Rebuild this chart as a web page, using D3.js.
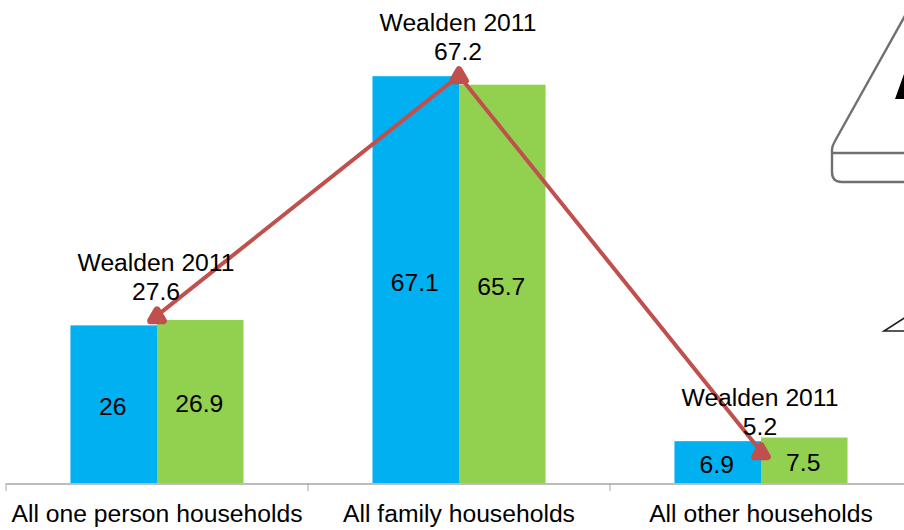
<!DOCTYPE html>
<html>
<head>
<meta charset="utf-8">
<script src="https://cdn.jsdelivr.net/npm/d3@7"></script>
<style>
html,body{margin:0;padding:0;background:#fff;overflow:hidden}
svg{display:block}
text{font-family:"Liberation Sans",Arial,sans-serif;font-size:24.7px;fill:#000}
</style>
</head>
<body>
<svg id="chart" width="904" height="530"></svg>
<script>
const categories = ["All one person households", "All family households", "All other households"];
const seriesA = [26, 67.1, 6.9];
const seriesB = [26.9, 65.7, 7.5];
const lineValues = [27.6, 67.2, 5.2];
const lineName = "Wealden 2011";
const seriesNames = ["A", "B"];
const colors = ["#00B0F0", "#92D050"];
const lineColor = "#C0504D";
const axisColor = "#A6A6A6";

const svg = d3.select("#chart");
const x = d3.scaleBand().domain(categories).range([6, 912]);
const y = d3.scaleLinear().domain([0, 80]).range([483, -2]);
const xSub = d3.scaleBand().domain(seriesNames).range([x.bandwidth() * 0.2135, x.bandwidth() * 0.7865]);

// decorative shapes clipped at the right edge
const deco = svg.append("g").attr("fill", "none").attr("stroke", "#707070").attr("stroke-width", 2.4);
deco.append("path").attr("d", "M906,14 L835,141 Q832,146 832,150 L832,172 Q832,182 842,182 L906,182");
deco.append("path").attr("d", "M832,153 L906,153");
svg.append("path").attr("d", "M895,99 L904,74 L904,99 Z").attr("fill", "#000");
svg.append("path").attr("d", "M906,317 L884,331 L906,331").attr("fill", "none").attr("stroke", "#222").attr("stroke-width", 1.6);

// bars
[seriesA, seriesB].forEach((vals, s) => {
  svg.append("g").selectAll("rect").data(vals).join("rect")
    .attr("x", (d, i) => x(categories[i]) + xSub(seriesNames[s]))
    .attr("y", d => y(d))
    .attr("width", xSub.bandwidth())
    .attr("height", d => y(0) - y(d))
    .attr("fill", colors[s]);
  svg.append("g").selectAll("text").data(vals).join("text")
    .attr("x", (d, i) => x(categories[i]) + xSub(seriesNames[s]) + xSub.bandwidth() / 2 - 1)
    .attr("y", d => (y(d) + y(0)) / 2 + 11)
    .attr("text-anchor", "middle")
    .text(d => d);
});

// axis
const axis = d3.axisBottom(x).tickValues([]).tickSizeOuter(0);
const axisG = svg.append("g").attr("transform", "translate(0,483.5)").call(axis);
axisG.select(".domain").attr("stroke", axisColor).attr("stroke-width", 1.5);
const edges = categories.map(c => x(c));
svg.append("g").selectAll("line").data(edges).join("line")
  .attr("x1", d => d).attr("x2", d => d)
  .attr("y1", 483).attr("y2", 491)
  .attr("stroke", axisColor).attr("stroke-width", 1);
svg.append("g").selectAll("text").data(categories).join("text")
  .attr("x", d => x(d) + x.bandwidth() / 2)
  .attr("y", 522)
  .attr("text-anchor", "middle")
  .text(d => d);

// line
const cx = i => x(categories[i]) + x.bandwidth() / 2;
const line = d3.line().x((d, i) => cx(i)).y(d => y(d));
svg.append("path").datum(lineValues).attr("d", line)
  .attr("fill", "none").attr("stroke", lineColor).attr("stroke-width", 4);
const tri = d3.symbol().type(d3.symbolTriangle).size(70);
svg.append("g").selectAll("path").data(lineValues).join("path")
  .attr("d", tri)
  .attr("transform", (d, i) => `translate(${cx(i)},${y(d) + 1.5})`)
  .attr("fill", lineColor).attr("stroke", lineColor).attr("stroke-width", 7).attr("stroke-linejoin", "round");

// line labels
const labels = svg.append("g").selectAll("g").data(lineValues).join("g")
  .attr("transform", (d, i) => `translate(${cx(i)},${y(d)})`);
labels.append("text").attr("y", -45).attr("text-anchor", "middle").attr("dx", -1).text(lineName);
labels.append("text").attr("y", -16).attr("text-anchor", "middle").attr("dx", -1).text(d => d);
</script>
</body>
</html>
